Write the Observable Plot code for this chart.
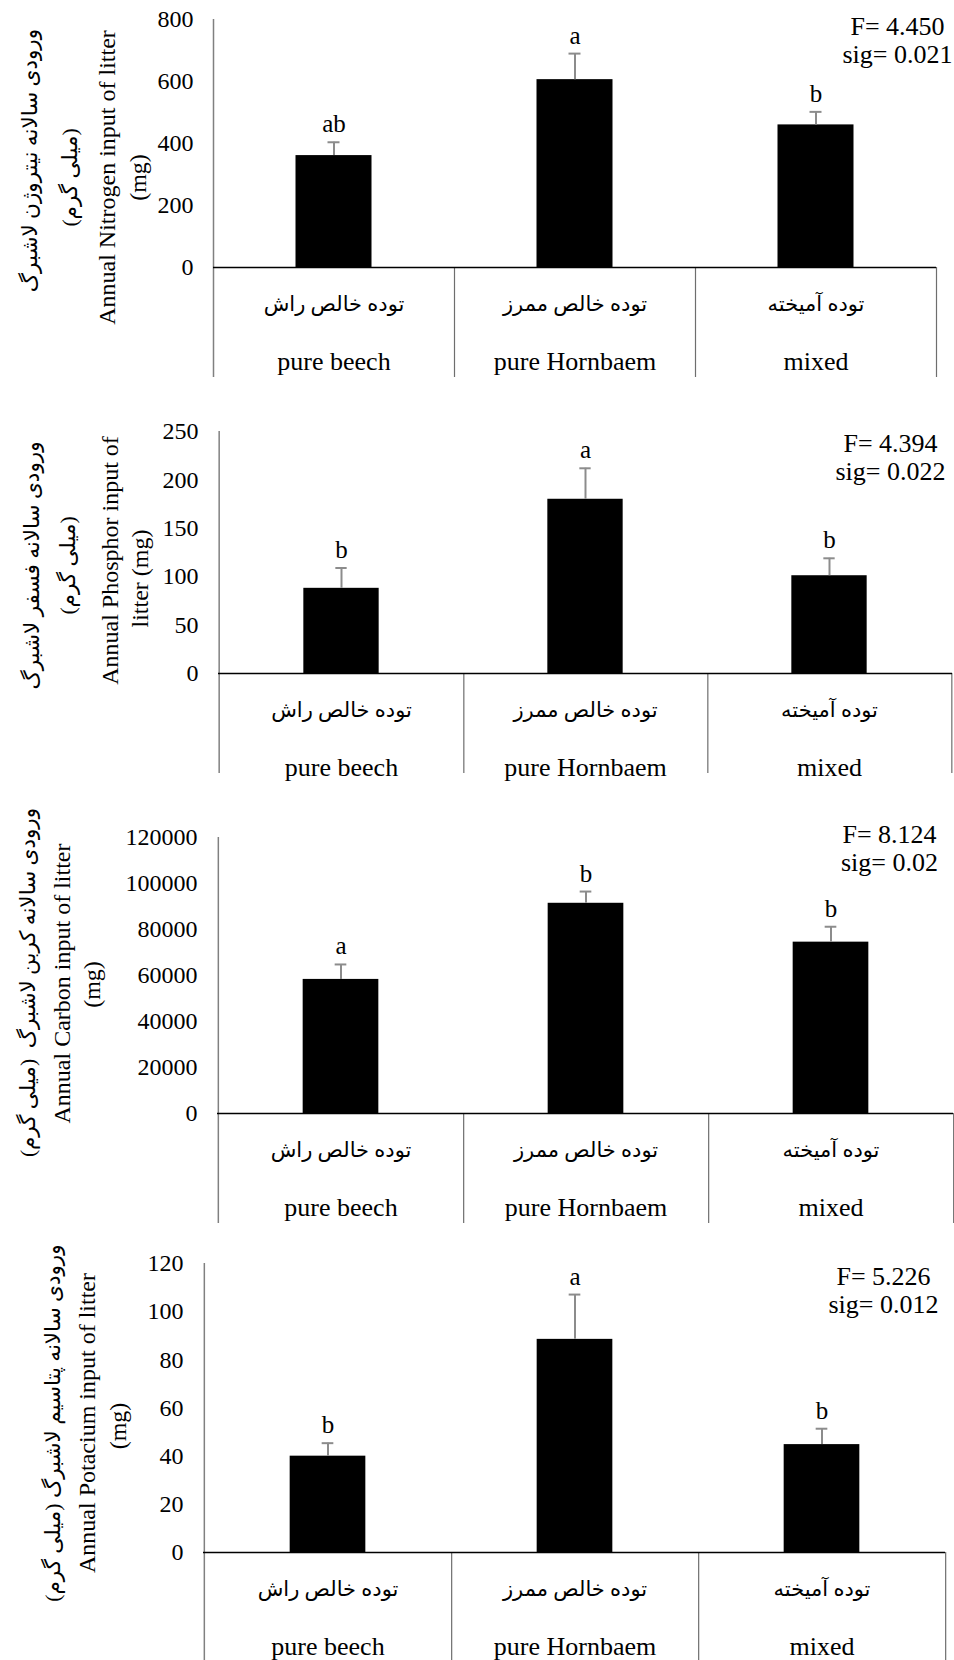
<!DOCTYPE html>
<html>
<head>
<meta charset="utf-8">
<script src="https://cdn.jsdelivr.net/npm/d3@7"></script>
<script src="https://cdn.jsdelivr.net/npm/@observablehq/plot@0.6"></script>
<style>
  html, body { margin: 0; padding: 0; background: #fff; }
  #wrap { width: 954px; }
  #wrap svg { display: block; }
  #wrap svg text { font-family: 'Liberation Serif', 'Times New Roman', 'DejaVu Sans', serif !important; }
</style>
</head>
<body>
<div id="wrap"></div>
<script>
// ---- categories ----
const categoriesEn = ["pure beech", "pure Hornbaem", "mixed"];
const categoriesFa = ["توده خالص راش", "توده خالص ممرز", "توده آمیخته"];

// ---- Nitrogen ----
const nitrogenMean = [361, 606, 460];
const nitrogenSE = [43, 84, 42];
const nitrogenLetters = ["ab", "a", "b"];
const nitrogenTicks = [0, 200, 400, 600, 800];
const nitrogenStats = ["F= 4.450", "sig= 0.021"];
const nitrogenTitleFa = ["ورودی سالانه نیتروژن لاشبرگ", "(میلی گرم)"];
const nitrogenTitleEn = ["Annual Nitrogen input of litter", "(mg)"];

// ---- Phosphor ----
const phosphorMean = [88, 180, 101];
const phosphorSE = [21, 32, 18];
const phosphorLetters = ["b", "a", "b"];
const phosphorTicks = [0, 50, 100, 150, 200, 250];
const phosphorStats = ["F= 4.394", "sig= 0.022"];
const phosphorTitleFa = ["ورودی سالانه فسفر لاشبرگ", "(میلی گرم)"];
const phosphorTitleEn = ["Annual Phosphor input of", "litter (mg)"];

// ---- Carbon ----
const carbonMean = [58300, 91400, 74500];
const carbonSE = [6500, 5100, 6700];
const carbonLetters = ["a", "b", "b"];
const carbonTicks = [0, 20000, 40000, 60000, 80000, 100000, 120000];
const carbonStats = ["F= 8.124", "sig= 0.02"];
const carbonTitleFa = ["ورودی سالانه کربن لاشبرگ  (میلی گرم)"];
const carbonTitleEn = ["Annual Carbon input of litter", "(mg)"];

// ---- Potassium ----
const potassiumMean = [40, 88.5, 44.8];
const potassiumSE = [5.4, 18.6, 6.6];
const potassiumLetters = ["b", "a", "b"];
const potassiumTicks = [0, 20, 40, 60, 80, 100, 120];
const potassiumStats = ["F= 5.226", "sig= 0.012"];
const potassiumTitleFa = ["ورودی سالانه پتاسیم لاشبرگ (میلی گرم)"];
const potassiumTitleEn = ["Annual Potacium input of litter", "(mg)"];

const SERIF = "'Liberation Serif','Times New Roman',serif";
const FA = "'Liberation Serif','DejaVu Sans',sans-serif";
const W = 954;

function panel(cfg) {
  const rows = categoriesEn.map((c, i) => ({
    cat: c, fa: categoriesFa[i], en: c,
    value: cfg.mean[i], upper: cfg.mean[i] + cfg.se[i], letter: cfg.letters[i]
  }));
  const bw = (W - cfg.ml - cfg.mr) / 3;
  const barIn = (bw - 76) / 2;
  const capIn = (bw - 12) / 2;
  const titleMarks = cfg.titles.map(t => Plot.text([t.text], {
    frameAnchor: "left", rotate: -90, dx: t.dx, dy: t.dy,
    textAnchor: "middle", lineAnchor: "middle",
    fontSize: t.fa ? 21.5 : 24, fontFamily: t.fa ? FA : SERIF, fill: "black"
  }));
  return Plot.plot({
    width: W, height: cfg.h,
    marginTop: cfg.mt, marginBottom: cfg.mb, marginLeft: cfg.ml, marginRight: cfg.mr,
    style: {fontFamily: SERIF, fontSize: "24px", color: "black", background: "white", overflow: "visible"},
    x: {domain: categoriesEn, padding: 0, axis: null},
    y: {domain: [0, cfg.ticks[cfg.ticks.length - 1]], ticks: cfg.ticks, tickSize: 0, tickPadding: 20,
        label: null, tickFormat: d => String(d)},
    marks: [
      Plot.barY(rows, {x: "cat", y: "value", fill: "black", insetLeft: barIn, insetRight: barIn}),
      Plot.ruleX(rows, {x: "cat", y1: "value", y2: "upper", stroke: "#8c8c8c", strokeWidth: 2}),
      Plot.tickY(rows, {x: "cat", y: "upper", stroke: "#8c8c8c", strokeWidth: 2, insetLeft: capIn, insetRight: capIn}),
      Plot.ruleX([categoriesEn[0]], {dx: -bw / 2, stroke: "#808080", strokeWidth: 1.5, insetBottom: -cfg.tableH}),
      Plot.ruleX(rows, {x: "cat", y1: 0, dx: bw / 2, stroke: "#6e6e6e", strokeWidth: 1.2, insetBottom: -cfg.tableH}),
      Plot.ruleY([0], {stroke: "black", strokeWidth: 1.5}),
      Plot.text(rows, {x: "cat", y: () => 0, text: "fa", dy: 37, lineAnchor: "middle", fontSize: 21, fontFamily: FA, fill: "black"}),
      Plot.text(rows, {x: "cat", y: () => 0, text: "en", dy: 94, lineAnchor: "middle", fontSize: 26, fontFamily: SERIF, fill: "black"}),
      Plot.text(rows, {x: "cat", y: "upper", text: "letter", dy: -10, lineAnchor: "bottom", fontSize: 25, fontFamily: SERIF, fill: "black"}),
      Plot.text([cfg.stats.join("\n")], {frameAnchor: "top-right", dx: cfg.sdx, dy: cfg.sdy,
        textAnchor: "middle", lineAnchor: "top", lineHeight: 1.1, fontSize: 26, fontFamily: SERIF, fill: "black"}),
      ...titleMarks
    ]
  });
}

const panels = [
  {mean: nitrogenMean, se: nitrogenSE, letters: nitrogenLetters, ticks: nitrogenTicks, stats: nitrogenStats,
   h: 390, mt: 19, mb: 123, ml: 213, mr: 18, tableH: 110, sdx: -39, sdy: -5,
   titles: [
     {text: nitrogenTitleFa[0], fa: true, dx: -183, dy: 17},
     {text: nitrogenTitleFa[1], fa: true, dx: -143, dy: 34},
     {text: nitrogenTitleEn[0], dx: -106, dy: 34},
     {text: nitrogenTitleEn[1], dx: -75, dy: 34}
   ]},
  {mean: phosphorMean, se: phosphorSE, letters: phosphorLetters, ticks: phosphorTicks, stats: phosphorStats,
   h: 400, mt: 41, mb: 117, ml: 218, mr: 2, tableH: 100, sdx: -62, sdy: 0,
   titles: [
     {text: phosphorTitleFa[0], fa: true, dx: -186, dy: 13},
     {text: phosphorTitleFa[1], fa: true, dx: -150, dy: 13},
     {text: phosphorTitleEn[0], dx: -108, dy: 8},
     {text: phosphorTitleEn[1], dx: -78, dy: 26}
   ]},
  {mean: carbonMean, se: carbonSE, letters: carbonLetters, ticks: carbonTicks, stats: carbonStats,
   h: 445, mt: 47, mb: 122, ml: 217, mr: 1, tableH: 110, sdx: -64, sdy: -15,
   titles: [
     {text: carbonTitleFa[0], fa: true, dx: -189, dy: 7},
     {text: carbonTitleEn[0], dx: -155, dy: 8},
     {text: carbonTitleEn[1], dx: -125, dy: 9}
   ]},
  {mean: potassiumMean, se: potassiumSE, letters: potassiumLetters, ticks: potassiumTicks, stats: potassiumStats,
   h: 425, mt: 28, mb: 108, ml: 203, mr: 9, tableH: 108, sdx: -62, sdy: 1,
   titles: [
     {text: potassiumTitleFa[0], fa: true, dx: -150, dy: 15},
     {text: potassiumTitleEn[0], dx: -116, dy: 15},
     {text: potassiumTitleEn[1], dx: -85, dy: 18}
   ]}
];

const wrap = document.getElementById("wrap");
for (const p of panels) wrap.appendChild(panel(p));
</script>
</body>
</html>
